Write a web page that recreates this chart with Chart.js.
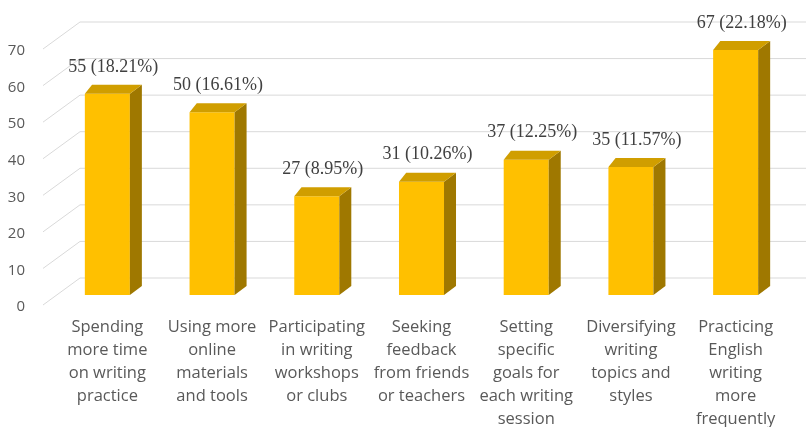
<!DOCTYPE html>
<html>
<head>
<meta charset="utf-8">
<script src="https://cdn.jsdelivr.net/npm/chart.js@4.4.1/dist/chart.umd.min.js"></script>
<style>
  html, body { margin: 0; padding: 0; background: #fff; }
  #wrap { width: 806px; height: 427px; }
</style>
</head>
<body>
<div id="wrap"><canvas id="chart" width="806" height="427"></canvas></div>
<script>
// --- data ---
const categories = [
  ['Spending', 'more time', 'on writing', 'practice'],
  ['Using more', 'online', 'materials', 'and tools'],
  ['Participating', 'in writing', 'workshops', 'or clubs'],
  ['Seeking', 'feedback', 'from friends', 'or teachers'],
  ['Setting', 'specific', 'goals for', 'each writing', 'session'],
  ['Diversifying', 'writing', 'topics and', 'styles'],
  ['Practicing', 'English', 'writing', 'more', 'frequently']
]
const counts = [55, 50, 27, 31, 37, 35, 67]
const percents = ['18.21%', '16.61%', '8.95%', '10.26%', '12.25%', '11.57%', '22.18%']
const yTicks = [0, 10, 20, 30, 40, 50, 60, 70]

// colores estilo Excel 3D
const frontColor = '#FFC000'
const topColor = '#D09E00'
const sideColor = '#9F7800'
const gridColor = '#D9D9D9'
const depthX = 12
const depthY = 9

// pared del fondo con cuadricula en perspectiva
const wallGrid = {
  id: 'wallGrid',
  beforeDatasetsDraw(chart) {
    const ctx = chart.ctx
    const y = chart.scales.y
    ctx.save()
    ctx.strokeStyle = gridColor
    ctx.lineWidth = 1
    yTicks.forEach(v => {
      const py = y.getPixelForValue(v)
      ctx.beginPath()
      ctx.moveTo(43, py + 10)
      ctx.lineTo(80, py - 17)
      ctx.lineTo(chart.width, py - 17)
      ctx.stroke()
    })
    ctx.restore()
  }
}

// caras superior y lateral + etiquetas
const bars3d = {
  id: 'bars3d',
  afterDatasetsDraw(chart) {
    const ctx = chart.ctx
    const meta = chart.getDatasetMeta(0)
    ctx.save()
    meta.data.forEach((bar, i) => {
      const { x, y, base, width } = bar.getProps(['x', 'y', 'base', 'width'], true)
      const l = x - width / 2
      const r = x + width / 2
      // lateral
      ctx.fillStyle = sideColor
      ctx.beginPath()
      ctx.moveTo(r, y)
      ctx.lineTo(r + depthX, y - depthY)
      ctx.lineTo(r + depthX, base - depthY)
      ctx.lineTo(r, base)
      ctx.closePath()
      ctx.fill()
      // superior
      ctx.fillStyle = topColor
      ctx.beginPath()
      ctx.moveTo(l, y)
      ctx.lineTo(l + depthX * 0.6, y - depthY)
      ctx.lineTo(r + depthX, y - depthY)
      ctx.lineTo(r, y)
      ctx.closePath()
      ctx.fill()
      // etiqueta
      ctx.fillStyle = '#404040'
      ctx.font = "18px 'Liberation Serif', serif"
      ctx.textAlign = 'center'
      ctx.textBaseline = 'middle'
      ctx.fillText(`${counts[i]} (${percents[i]})`, x + depthX / 2, y - depthY - 18)
    })
    ctx.restore()
  }
}

new Chart(document.getElementById('chart'), {
  type: 'bar',
  data: {
    labels: categories,
    datasets: [{
      data: counts,
      backgroundColor: frontColor,
      borderWidth: 0,
      barPercentage: 0.43,
      categoryPercentage: 1
    }]
  },
  options: {
    responsive: false,
    animation: false,
    layout: { padding: { top: 38, right: 18, left: 0, bottom: 0 } },
    plugins: { legend: { display: false }, tooltip: { enabled: false } },
    scales: {
      x: {
        grid: { display: false, drawTicks: false },
        border: { display: false },
        ticks: {
          color: '#595959',
          font: { family: "'Open Sans', sans-serif", size: 16.5, lineHeight: 1.394 },
          padding: 21,
          maxRotation: 0,
          autoSkip: false
        },
        afterFit(scale) { scale.height = 132 }
      },
      y: {
        min: 0,
        max: 70,
        grid: { display: false, drawTicks: false },
        border: { display: false },
        ticks: {
          stepSize: 10,
          color: '#595959',
          font: { family: "'Open Sans', sans-serif", size: 15 },
          padding: 30,
          labelOffset: 12
        },
        afterFit(scale) { scale.width = 55 }
      }
    }
  },
  plugins: [wallGrid, bars3d]
})
</script>
</body>
</html>
